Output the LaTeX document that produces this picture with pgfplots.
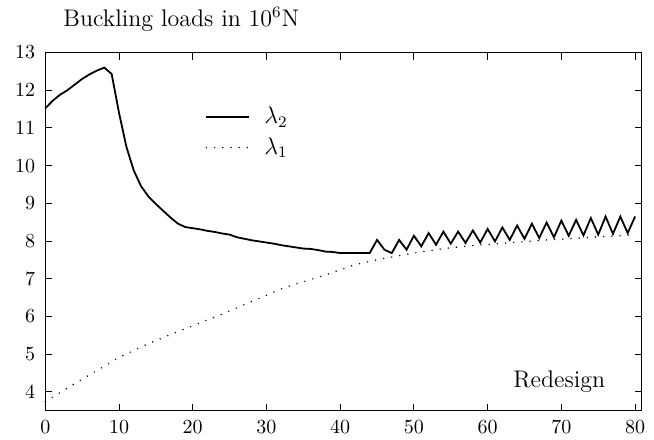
\documentclass[border=0pt]{standalone}
\usepackage{pgfplots}
\pgfplotsset{compat=1.18}

\pgfplotstableread{
x y
0 11.52
1 11.72
2 11.88
3 12.00
4 12.15
5 12.30
6 12.42
7 12.52
8 12.60
9 12.43
10 11.40
11 10.50
12 9.87
13 9.45
14 9.18
15 8.98
16 8.80
17 8.62
18 8.46
19 8.37
20 8.34
21 8.31
22 8.27
23 8.24
24 8.20
25 8.17
26 8.10
27 8.06
28 8.02
29 7.99
30 7.96
31 7.93
32 7.89
33 7.86
34 7.83
35 7.80
36 7.79
37 7.76
38 7.72
39 7.71
40 7.68
41 7.68
42 7.68
43 7.68
44 7.68
45 8.03
46 7.77
47 7.68
48 8.03
49 7.77
50 8.14
51 7.86
52 8.21
53 7.90
54 8.25
55 7.93
56 8.25
57 7.95
58 8.28
59 7.96
60 8.32
61 7.99
62 8.36
63 8.03
64 8.41
65 8.06
66 8.46
67 8.08
68 8.49
69 8.10
70 8.54
71 8.14
72 8.56
73 8.15
74 8.61
75 8.17
76 8.65
77 8.19
78 8.65
79 8.21
80 8.65
}\lambdatwo

\pgfplotstableread{
x y
0 3.74
2 3.98
4 4.22
6 4.45
8 4.68
10 4.91
12 5.10
14 5.28
16 5.44
18 5.60
20 5.75
22 5.91
24 6.06
26 6.23
28 6.40
30 6.56
32 6.73
34 6.86
36 6.98
38 7.10
40 7.24
42 7.37
44 7.46
46 7.54
48 7.61
50 7.68
52 7.74
54 7.80
56 7.84
58 7.88
60 7.91
62 7.94
64 7.97
66 8.00
68 8.03
70 8.05
72 8.07
74 8.10
76 8.12
78 8.14
80 8.17
}\lambdaone

\begin{document}
\begin{tikzpicture}
\begin{axis}[
    scale only axis,
    width=298.2pt, height=179.1pt,
    xmin=0, xmax=80.9,
    ymin=3.5, ymax=13,
    xtick={0,10,...,80},
    ytick={4,5,...,13},
    tick align=inside,
    major tick length=3.5pt,
    axis line style={line width=0.6pt},
    every tick/.style={black, line width=0.5pt},
    tick label style={font=\normalsize},
    xticklabel style={yshift=-1.2pt},
    yticklabel style={xshift=-1.5pt},
    legend style={at={(0.268,0.86)}, anchor=north west, draw=none, fill=none,
        font=\large, inner sep=0pt, row sep=1.5pt, cells={anchor=west}},
    legend image code/.code={\draw[#1] (0pt,0pt) -- (21.5pt,0pt);},
    clip=false,
]
    \addplot[black, line width=0.9pt, line join=miter] table {\lambdatwo};
    \addlegendentry{\hspace{5pt}$\lambda_2$}
    \addplot[black, line width=0.8pt, line cap=round, dash pattern=on 0pt off 4.1pt] table {\lambdaone};
    \addlegendentry{\hspace{5pt}$\lambda_1$}
    \node[anchor=base west, inner sep=0pt, font=\large] at (rel axis cs:0.784,0.064) {Redesign};
    \node[anchor=base west, inner sep=0pt, font=\large] at ([xshift=8.9pt, yshift=12.9pt]rel axis cs:0,1) {Buckling loads in $10^6$N};
    % padding so the page has the reference's margins
    \path ([xshift=-22.65pt, yshift=-12.15pt]rel axis cs:0,0) rectangle ([xshift=6.15pt, yshift=26.25pt]rel axis cs:1,1);
\end{axis}
\end{tikzpicture}
\end{document}
